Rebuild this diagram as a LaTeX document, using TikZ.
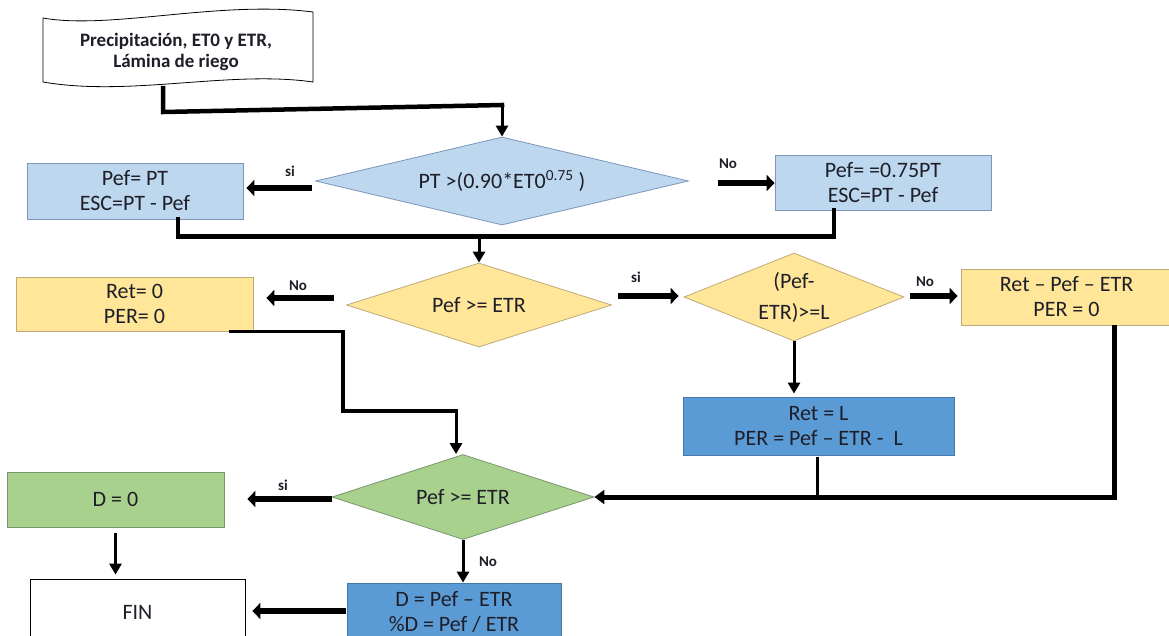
\documentclass[tikz,border=0pt]{standalone}
\usepackage{fontspec}
\setmainfont{Carlito}
\usetikzlibrary{shapes.geometric,arrows.meta,calc}
\definecolor{lblue}{RGB}{189,215,238}
\definecolor{lbluedraw}{RGB}{125,150,185}
\definecolor{lyel}{RGB}{255,230,153}
\definecolor{lyeldraw}{RGB}{190,170,120}
\definecolor{mblue}{RGB}{91,155,213}
\definecolor{mbluedraw}{RGB}{70,120,170}
\definecolor{lgreen}{RGB}{169,209,142}
\definecolor{lgreendraw}{RGB}{120,150,110}
\definecolor{txt}{RGB}{30,30,40}
\tikzset{
  box/.style={rectangle, draw, line width=0.8pt, inner sep=0pt, align=center, text=txt, font=\fontsize{22}{25}\selectfont},
  dia/.style={diamond, draw, line width=0.8pt, inner sep=0pt, align=center, text=txt, font=\fontsize{22}{25}\selectfont},
  lab/.style={font=\bfseries\fontsize{15}{17}\selectfont, text=txt},
  conn/.style={line width=4.5pt, line cap=rect},
  conntwo/.style={line width=3.5pt, line cap=rect},
  varrow/.style={line width=3pt, -{Triangle[length=11pt,width=12pt]}},
  fat/.style={line width=6pt, -{Triangle[length=8pt,width=16pt]}},
  conna/.style={line width=5pt, -{Triangle[length=10pt,width=14pt]}},
}
\begin{document}
\begin{tikzpicture}[x=1pt,y=-1pt]
\useasboundingbox (0,0) rectangle (1169,635);
\fill[white] (0,0) rectangle (1169,635);

% input document shape
\draw[line width=0.8pt, fill=white] (43,18) .. controls (110,30) and (220,0) .. (313,12) -- (313,82) .. controls (230,70) and (130,97) .. (43,82) -- cycle;
\node[font=\bfseries\fontsize{19}{21}\selectfont, align=center, text=txt] (inp) at (176,52) {Precipitación, ET0 y ETR,\\Lámina de riego};
\coordinate (inpb) at (163,88);

% first level
\node[dia, fill=lblue, draw=lbluedraw, minimum width=373pt, minimum height=88pt, aspect=4.2] (d1) at (502,181) {PT >(0.90*ET0\textsuperscript{0.75} )};
\node[box, fill=lblue, draw=lbluedraw, minimum width=216pt, minimum height=56pt] (b1) at (135,191) {Pef= PT\\ESC=PT - Pef};
\node[box, fill=lblue, draw=lbluedraw, minimum width=216pt, minimum height=55pt] (b2) at (883,182.5) {Pef= =0.75PT\\ESC=PT - Pef};

% second level
\node[dia, fill=lyel, draw=lyeldraw, minimum width=265pt, minimum height=84pt, aspect=3.15] (d2) at (479,305) {Pef >= ETR};
\node[box, fill=lyel, draw=lyeldraw, minimum width=237pt, minimum height=54pt] (b3) at (134.5,304) {Ret= 0\\PER= 0};
\node[dia, fill=lyel, draw=lyeldraw, minimum width=220pt, minimum height=88pt, aspect=2.5] (d3) at (794,297) {(Pef-\\[6pt]ETR)>=L};
\node[box, fill=lyel, draw=lyeldraw, minimum width=211pt, minimum height=56pt] (b4) at (1066.5,297) {Ret -- Pef -- ETR\\PER = 0};
\node[box, fill=mblue, draw=mbluedraw, minimum width=271pt, minimum height=58pt] (b5) at (818.5,426) {Ret = L\\PER = Pef -- ETR -\ \ L};

% third level
\node[dia, fill=lgreen, draw=lgreendraw, minimum width=262pt, minimum height=85pt, aspect=3.1] (d4) at (463,497) {Pef >= ETR};
\node[box, fill=lgreen, draw=lgreendraw, minimum width=217pt, minimum height=55pt] (b6) at (115.5,499.5) {D = 0};
\node[box, fill=white, draw=black, minimum width=215pt, minimum height=66pt] (b7) at (137.5,612) {FIN};
\node[box, fill=mblue, draw=mbluedraw, minimum width=214pt, minimum height=58pt] (b8) at (454,612) {D = Pef -- ETR\\\%D = Pef / ETR};

% connectors from input
\coordinate (c1) at (163,112);
\coordinate (c2) at (502,105);
\draw[conn] (inpb) -- (c1) -- (c2);
\draw[varrow] (c2) -- (d1.north);

% decision 1 branches
\draw[fat] ($(d1.west)+(-3,7)$) -- ($(d1.west -| b1.east)+(3,7)$);
\node[lab] (l1) at (290,171) {si};
\draw[fat] ($(d1.east)+(29,2)$) -- ($(d1.east -| b2.west)+(0,2)$);
\node[lab] (l2) at (728,164) {No};

% merge into decision 2
\draw[conn] ($(b1.south)+(43,0)$) -- ++(0,17) -| ($(b2.south)+(-49,0)$);
\coordinate (m1) at (479,236);
\draw[varrow] (m1) -- (d2.north);

% decision 2 branches
\draw[fat] ($(d2.west)+(-12,-7)$) -- ($(d2.west -| b3.east)+(13,-7)$);
\node[lab] (l3) at (298,286) {No};
\draw[fat] ($(d2.east)+(6,-9)$) -- ($(d2.east -| d3.west)+(-5,-9)$);
\node[lab] (l4) at (636,277) {si};

% decision 3 branches
\draw[fat] ($(d3.east)+(6,-1)$) -- ($(d3.east -| b4.west)+(-3,-1)$);
\node[lab] (l5) at (925,282) {No};
\draw[varrow, shorten >=3pt] (d3.south) -- (d3.south |- b5.north);

% into decision 4
\draw[conntwo] ($(b5.south)+(-1,3)$) -- ($(b5.south |- d4.east)+(-1,0)$);
\draw[conna] ($(b4.south)+(48,0)$) |- (d4.east);
\coordinate (m2) at (343,411);
\coordinate (m3) at (456,411);
\draw[conntwo] ($(b3.south)+(96,0)$) -| (m2) -- (m3);
\draw[varrow] (m3) -- (m3 |- d4.north);

% decision 4 branches
\draw[fat] ($(d4.west)+(0,2)$) -- ($(d4.west -| b6.east)+(23,2)$);
\node[lab] (l6) at (283,485) {si};
\draw[varrow, shorten <=6pt, shorten >=4pt] (b6.south) -- (b6.south |- b7.north);
\draw[varrow] (d4.south) -- (d4.south |- b8.north);
\node[lab] (l7) at (488,562) {No};
\draw[fat] ($(b8.west)+(-1,-1)$) -- ($(b8.west -| b7.east)+(7,-1)$);
\end{tikzpicture}
\end{document}
